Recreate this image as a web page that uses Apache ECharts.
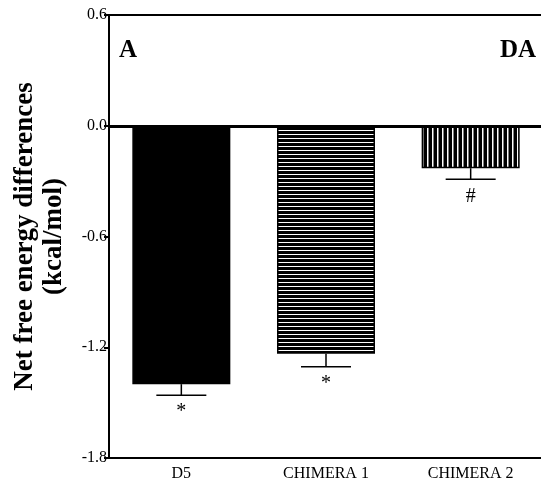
<!DOCTYPE html>
<html><head><meta charset="utf-8">
<script src="https://cdn.jsdelivr.net/npm/echarts@6/dist/echarts.min.js"></script>
<style>html,body{margin:0;padding:0;background:#fff}#c{width:541px;height:490px}</style>
</head><body><div id="c"></div>
<script>
var categories = ['D5', 'CHIMERA 1', 'CHIMERA 2'];
var values = [-1.40, -1.235, -0.23];
var errLow = [-1.46, -1.305, -0.29];
var marks = ['*', '*', '#'];
var yTicks = [0.6, 0.0, -0.6, -1.2, -1.8];

function pattern(kind) {
  var c = document.createElement('canvas');
  if (kind === 'h') {
    c.width = 4; c.height = 4;
    var g = c.getContext('2d');
    g.fillStyle = '#000'; g.fillRect(0, 0, 4, 4);
    g.fillStyle = '#fff'; g.fillRect(0, 2, 4, 1);
  } else {
    c.width = 5; c.height = 5;
    var g2 = c.getContext('2d');
    g2.fillStyle = '#000'; g2.fillRect(0, 0, 5, 5);
    g2.fillStyle = '#fff'; g2.fillRect(2, 0, 1.5, 5);
  }
  return c;
}
var fills = ['#000', {image: pattern('h'), repeat: 'repeat'}, {image: pattern('v'), repeat: 'repeat'}];
var serif = '"Liberation Serif", "DejaVu Serif", serif';

var chart = echarts.init(document.getElementById('c'));
chart.setOption({
  animation: false,
  backgroundColor: '#fff',
  grid: {left: 109, top: 15, right: -2, bottom: 32, containLabel: false, outerBoundsMode: 'none'},
  xAxis: [{
    type: 'category', data: categories, position: 'bottom',
    axisLine: {onZero: false, lineStyle: {color: '#000', width: 2}},
    axisTick: {show: false},
    axisLabel: {color: '#000', fontFamily: serif, fontSize: 16, margin: 8}
  }, {
    type: 'category', data: categories, position: 'top',
    axisLine: {onZero: false, lineStyle: {color: '#000', width: 2}},
    axisTick: {show: false}, axisLabel: {show: false}
  }],
  yAxis: {
    type: 'value', min: -1.8, max: 0.6, interval: 0.6,
    axisLine: {show: true, lineStyle: {color: '#000', width: 2}},
    axisTick: {show: true, length: 5, lineStyle: {color: '#000', width: 2}},
    splitLine: {show: false},
    axisLabel: {color: '#000', fontFamily: serif, fontSize: 16, margin: 2,
      formatter: function (v) { return v.toFixed(1); }},
    name: 'Net free energy differences\n(kcal/mol)',
    nameLocation: 'middle', nameRotate: 90, nameGap: 40,
    nameTextStyle: {color: '#000', fontFamily: serif, fontWeight: 'bold', fontSize: 27, lineHeight: 29}
  },
  series: [{
    type: 'bar', barWidth: 98,
    data: values.map(function (v, i) {
      return {value: v, itemStyle: {color: fills[i], borderColor: '#000', borderWidth: 1.5}};
    }),
    markLine: {
      silent: true, symbol: 'none', label: {show: false},
      lineStyle: {color: '#000', width: 3, type: 'solid'},
      data: [{yAxis: 0}]
    },
    z: 2
  }, {
    type: 'custom',
    data: categories.map(function (c, i) { return [i, values[i], errLow[i], marks[i]]; }),
    renderItem: function (params, api) {
      var top = api.coord([api.value(0), api.value(1)]);
      var bot = api.coord([api.value(0), api.value(2)]);
      var x = top[0];
      return {type: 'group', children: [
        {type: 'line', shape: {x1: x, y1: top[1], x2: x, y2: bot[1]}, style: {stroke: '#000', lineWidth: 1.5}},
        {type: 'line', shape: {x1: x - 25, y1: bot[1], x2: x + 25, y2: bot[1]}, style: {stroke: '#000', lineWidth: 1.5}},
        {type: 'text', x: x, y: bot[1] + 7, style: {text: marks[params.dataIndex], fill: '#000',
          font: '20px ' + serif, textAlign: 'center', textVerticalAlign: 'top'}}
      ]};
    },
    z: 3
  }],
  graphic: [
    {type: 'text', left: 119, top: 38, style: {text: 'A', fill: '#000', font: 'bold 25px ' + serif}},
    {type: 'text', right: 5, top: 38, style: {text: 'DA', fill: '#000', font: 'bold 25px ' + serif}}
  ]
});
</script></body></html>
